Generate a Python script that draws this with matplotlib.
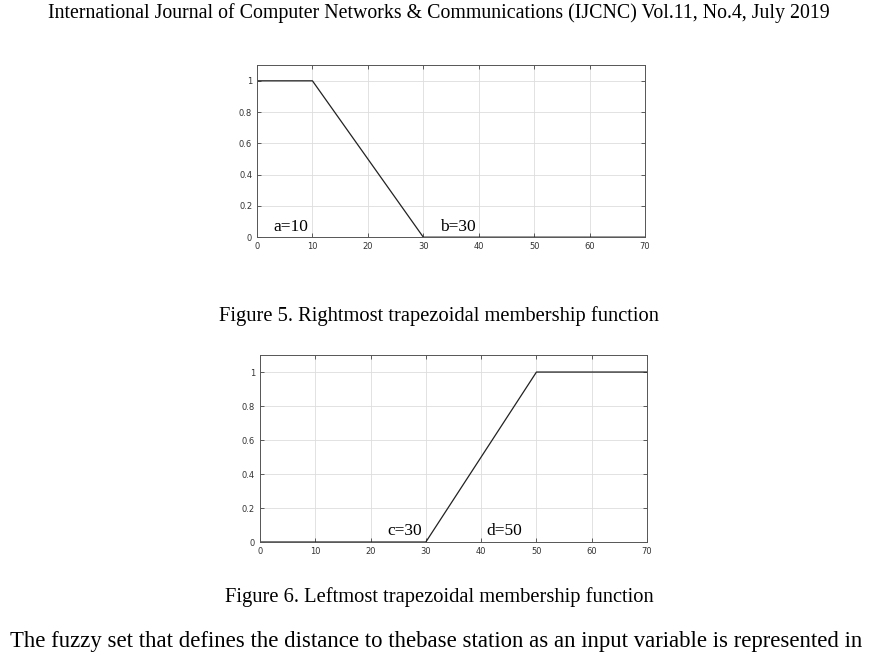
import matplotlib
matplotlib.use("Agg")
import matplotlib.pyplot as plt

x1 = [0, 10, 30, 70]
y1 = [1, 1, 0, 0]
x2 = [0, 30, 50, 70]
y2 = [0, 0, 1, 1]
xticks = [0, 10, 20, 30, 40, 50, 60, 70]
yticks = [0, 0.2, 0.4, 0.6, 0.8, 1]
yticklabels = ["0", "0.2", "0.4", "0.6", "0.8", "1"]

fig = plt.figure(figsize=(8.78, 6.57), dpi=100)
serif = "Liberation Serif"

def style(ax):
    ax.set_xlim(0, 70)
    ax.set_ylim(0, 1.1)
    ax.set_xticks(xticks)
    ax.set_yticks(yticks)
    ax.set_yticklabels(yticklabels)
    ax.grid(True, color="#dddddd", linewidth=0.6)
    ax.tick_params(direction="in", top=True, right=True, labelsize=6, length=3,
                   width=0.6, colors="#444444", labelcolor="#333333")
    for s in ax.spines.values():
        s.set_color("#555555")
        s.set_linewidth(0.7)

ax1 = fig.add_axes([0.2927, 0.639, 0.442, 0.2618])
ax1.plot(x1, y1, color="#222222", linewidth=0.9)
style(ax1)
ax1.text(3, 0.04, "a=10", fontfamily=serif, fontsize=12.5)
ax1.text(33, 0.04, "b=30", fontfamily=serif, fontsize=12.5)

ax2 = fig.add_axes([0.296, 0.175, 0.441, 0.2846])
ax2.plot(x2, y2, color="#222222", linewidth=0.9)
style(ax2)
ax2.text(23, 0.04, "c=30", fontfamily=serif, fontsize=12.5)
ax2.text(41, 0.04, "d=50", fontfamily=serif, fontsize=12.5)

fig.text(0.5, 1 - 13/657, "International Journal of Computer Networks & Communications (IJCNC) Vol.11, No.4, July 2019",
         ha="center", va="center", fontfamily=serif, fontsize=14.3)
fig.text(0.5, 1 - 316/657, "Figure 5. Rightmost trapezoidal membership function",
         ha="center", va="center", fontfamily=serif, fontsize=14.8)
fig.text(0.5, 1 - 597/657, "Figure 6. Leftmost trapezoidal membership function",
         ha="center", va="center", fontfamily=serif, fontsize=14.8)
fig.text(10/878, 1 - 641/657, "The fuzzy set that defines the distance to thebase station as an input variable is represented in",
         ha="left", va="center", fontfamily=serif, fontsize=16.4)

fig.savefig("out.png", dpi=100)
